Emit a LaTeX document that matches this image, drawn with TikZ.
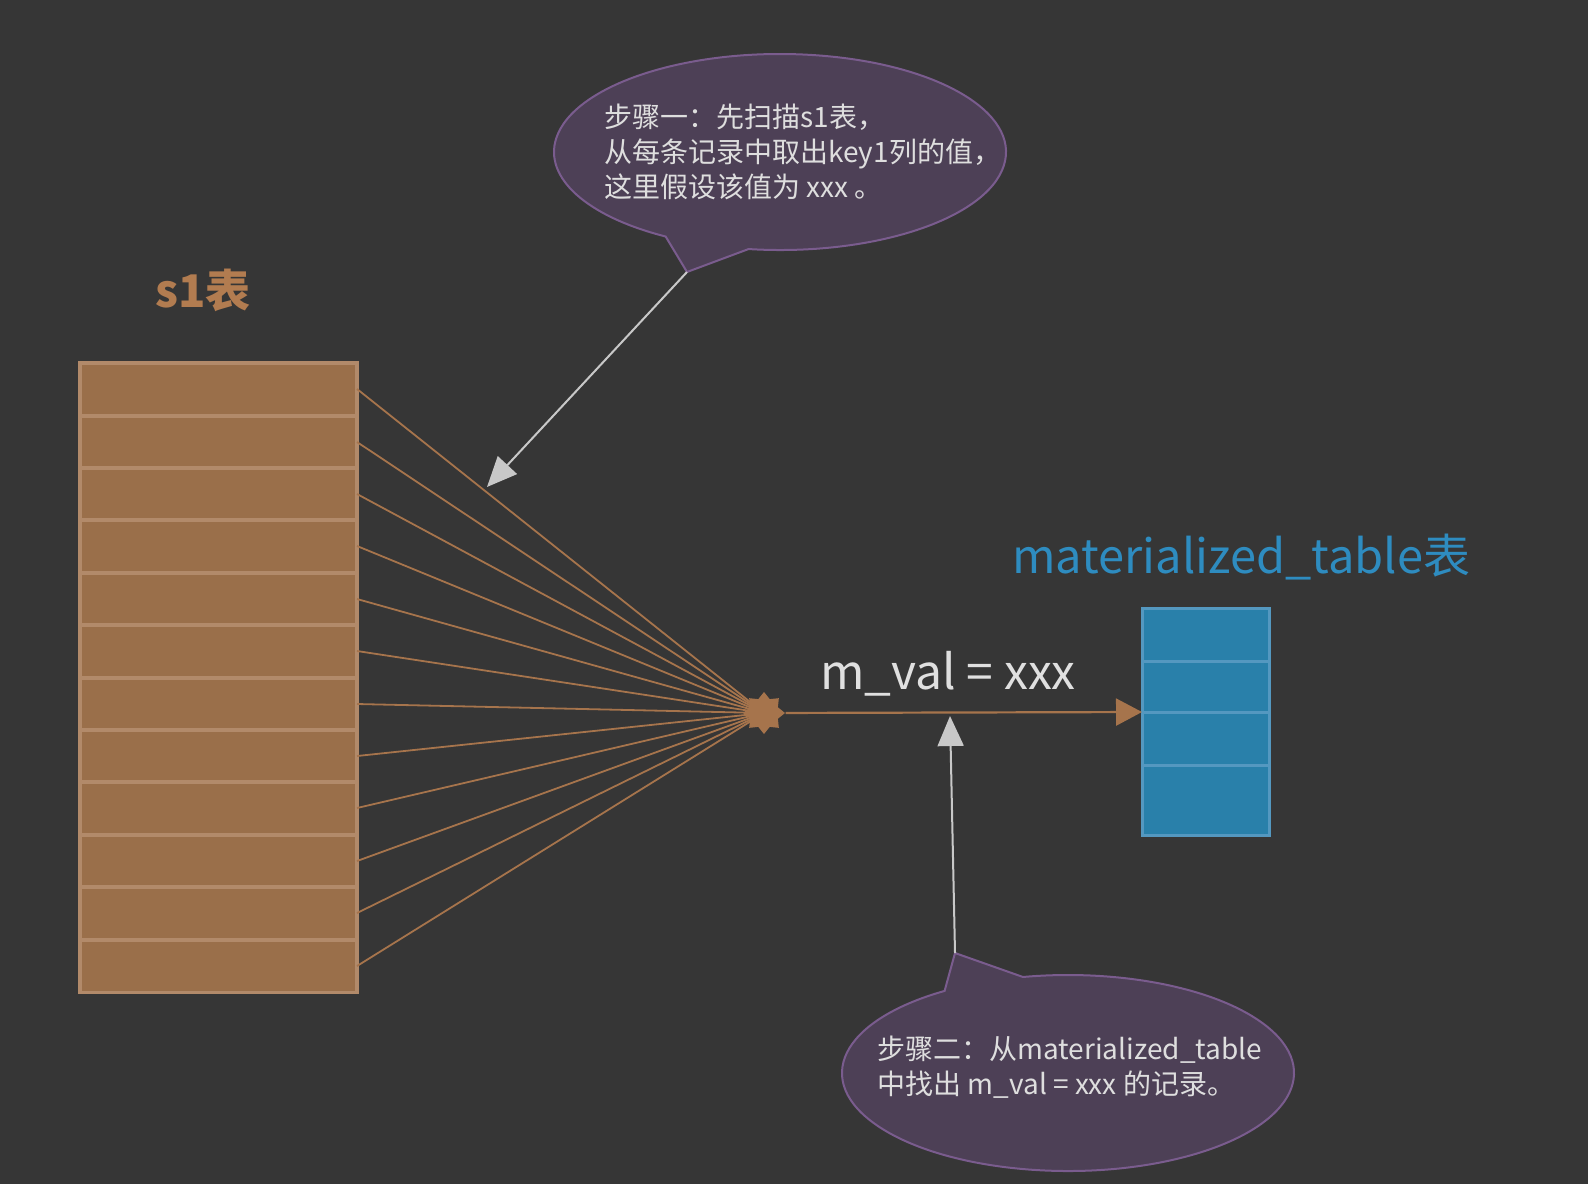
\documentclass[tikz,border=0pt]{standalone}
\usepackage{fontspec}
\setmainfont{Noto Sans CJK SC}
\usetikzlibrary{shapes.geometric,arrows.meta}
\definecolor{bg}{RGB}{54,54,54}
\definecolor{s1fill}{RGB}{154,111,74}
\definecolor{s1edge}{RGB}{178,138,106}
\definecolor{fanline}{RGB}{166,116,76}
\definecolor{s1title}{RGB}{178,124,80}
\definecolor{mtfill}{RGB}{41,128,170}
\definecolor{mtedge}{RGB}{84,152,192}
\definecolor{mttitle}{RGB}{46,140,192}
\definecolor{notefill}{RGB}{77,64,86}
\definecolor{noteedge}{RGB}{122,92,142}
\definecolor{notetxt}{RGB}{222,222,222}
\definecolor{valtxt}{RGB}{224,224,224}
\definecolor{ptr}{RGB}{200,200,200}

\begin{document}
\begin{tikzpicture}[x=0.5pt,y=0.5pt,
	srow/.style={rectangle,draw=s1edge,fill=s1fill,line width=1.7pt,minimum width=138.5pt,minimum height=26.2pt,inner sep=0pt,outer sep=0pt},
	mrow/.style={rectangle,draw=mtedge,fill=mtfill,line width=1.5pt,minimum width=63.5pt,inner sep=0pt,outer sep=0pt},
	fan/.style={draw=fanline,line width=0.9pt},
	note/.style={draw=noteedge,fill=notefill,line width=1pt},
	notetext/.style={text=notetxt,font=\fontsize{14pt}{17.5pt}\selectfont,align=left,anchor=west,inner sep=0pt},
	pointer/.style={draw=ptr,fill=ptr,line width=1pt,-{Triangle[length=15pt,width=13pt]}}]
	\fill[bg] (0,0) rectangle (1588,-1184);
	\useasboundingbox (0,0) rectangle (1588,-1184);

	% callouts
	\coordinate (tipA) at (687,-272);
	\coordinate (hitA) at (487,-487);
	\coordinate (tipB) at (955,-953);
	\coordinate (hitB) at (950,-716);
	\path[note] (780,-152) ++(262:226 and 98) arc[start angle=262,end angle=599.6,x radius=226,y radius=98] -- (tipA) -- cycle;
	\path[note] (1068,-1073) ++(123.1:226 and 98) arc[start angle=123.1,end angle=461.5,x radius=226,y radius=98] -- (tipB) -- cycle;
	\node[notetext] (noteA) at (604,-152) {步骤一：先扫描s1表，\\从每条记录中取出key1列的值，\\这里假设该值为 xxx 。};
	\node[notetext] (noteB) at (877,-1067) {步骤二：从materialized\_table\\中找出 m\_val = xxx 的记录。};

	% s1 table
	\node[text=s1title,font=\bfseries\fontsize{22.5pt}{26pt}\selectfont] (s1lbl) at (203,-290) {s1表};
	\node[srow] (s1) at (218.5,-389)  {};
	\node[srow] (s2) at (218.5,-442)  {};
	\node[srow] (s3) at (218.5,-494)  {};
	\node[srow] (s4) at (218.5,-546)  {};
	\node[srow] (s5) at (218.5,-599)  {};
	\node[srow] (s6) at (218.5,-651)  {};
	\node[srow] (s7) at (218.5,-704)  {};
	\node[srow] (s8) at (218.5,-756)  {};
	\node[srow] (s9) at (218.5,-808)  {};
	\node[srow] (s10) at (218.5,-861) {};
	\node[srow] (s11) at (218.5,-913) {};
	\node[srow] (s12) at (218.5,-966) {};

	% materialized table
	\node[text=mttitle,font=\fontsize{23.5pt}{28pt}\selectfont] (mtlbl) at (1241,-557) {materialized\_table表};
	\node[mrow,minimum height=26.5pt] (m1) at (1205.5,-634.5) {};
	\node[mrow,minimum height=25.5pt] (m2) at (1205.5,-686.5) {};
	\node[mrow,minimum height=26.5pt] (m3) at (1205.5,-738.5) {};
	\node[mrow,minimum height=35pt]   (m4) at (1205.5,-800)   {};

	\node[shape=star,star points=8,star point ratio=1.4,fill=fanline,minimum size=21pt,inner sep=0pt] (hub) at (764,-713) {};

	\path[fan] (s1.east) edge (hub.center);
	\path[fan] (s2.east) edge (hub.center);
	\path[fan] (s3.east) edge (hub.center);
	\path[fan] (s4.east) edge (hub.center);
	\path[fan] (s5.east) edge (hub.center);
	\path[fan] (s6.east) edge (hub.center);
	\path[fan] (s7.east) edge (hub.center);
	\path[fan] (s8.east) edge (hub.center);
	\path[fan] (s9.east) edge (hub.center);
	\path[fan] (s10.east) edge (hub.center);
	\path[fan] (s11.east) edge (hub.center);
	\path[fan] (s12.east) edge (hub.center);
	\path[fan,line width=1.1pt,-{Triangle[length=13pt,width=13.5pt]},fill=fanline] (hub) edge (m2.south west);

	\node[text=valtxt,font=\fontsize{24pt}{28pt}\selectfont,anchor=base] (mval) at (948,-689) {m\_val = xxx};

	\draw[pointer] (tipA) -- (hitA);
	\draw[pointer] (tipB) -- (hitB);
\end{tikzpicture}
\end{document}
